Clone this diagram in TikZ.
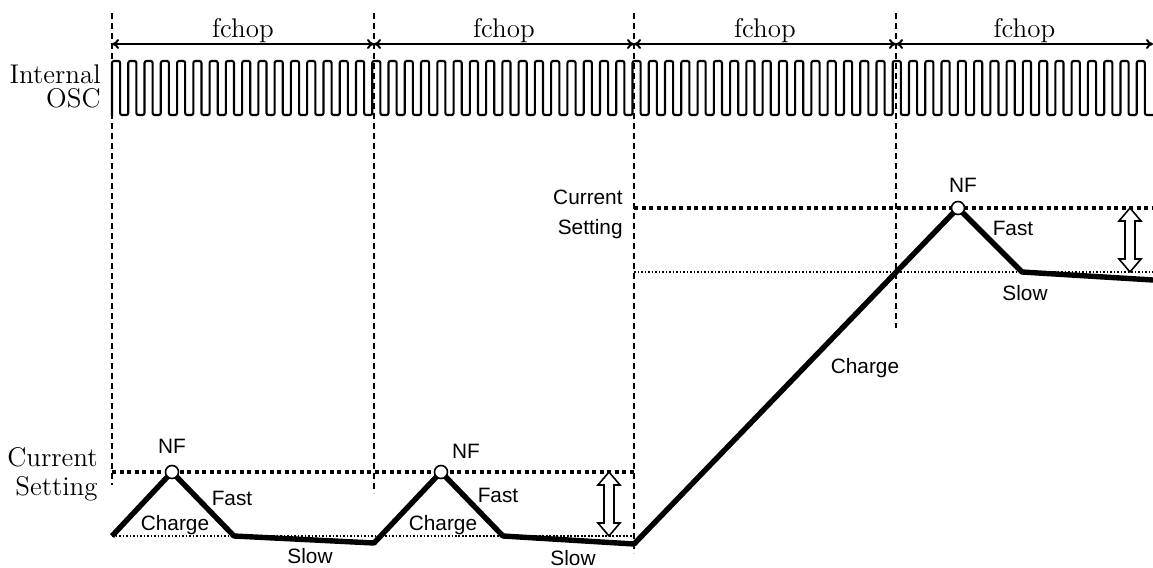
\documentclass[tikz,border=0pt]{standalone}
\usepackage{fontspec}
\newfontfamily\sansfam{Liberation Sans}
\usetikzlibrary{arrows.meta}
\begin{document}
\begin{tikzpicture}[x=0.5pt,y=-0.5pt,
  seriflabel/.style={font=\fontsize{13.5}{15}\selectfont, inner sep=0pt},
  sanslabel/.style={font=\sansfam\fontsize{10.4}{12}\selectfont, inner sep=0pt},
  gridline/.style={line width=0.6pt, dash pattern=on 3pt off 2pt},
  spanarrow/.style={line width=1pt, {To[length=3.5pt,width=5pt]}-{To[length=3.5pt,width=5pt]}},
  osc/.style={line width=1.05pt, rounded corners=1pt},
  levelline/.style={line width=2pt, dash pattern=on 2pt off 1.75pt},
  baseline/.style={line width=0.85pt, dash pattern=on 0.85pt off 0.9pt},
  wave/.style={line width=2.7pt, line join=round},
  nfdot/.style={circle, draw, fill=white, line width=0.8pt, minimum size=6.5pt, inner sep=0pt},
  dblarrow/.style={draw, fill=white, line width=0.8pt, line join=miter}
]
\useasboundingbox (0,0) rectangle (1153,568);

% vertical dashed guides
\coordinate (v1t) at (112,13);  \coordinate (v1b) at (112,485);
\coordinate (v2t) at (374,13);  \coordinate (v2b) at (374,493);
\coordinate (v3t) at (634,13);  \coordinate (v3b) at (634,553);
\coordinate (v4t) at (896,13);  \coordinate (v4b) at (896,328);
\draw[gridline] (v1t) -- (v1b);
\draw[gridline] (v2t) -- (v2b);
\draw[gridline] (v3t) -- (v3b);
\draw[gridline] (v4t) -- (v4b);

% fchop spans
\coordinate (a1) at (112,44);
\coordinate (a2) at (374,44);
\coordinate (a3) at (634,44);
\coordinate (a4) at (896,44);
\coordinate (a5) at (1153,44);
\draw[spanarrow] (a1) -- (a2);
\draw[spanarrow] (a2) -- (a3);
\draw[spanarrow] (a3) -- (a4);
\draw[spanarrow] (a4) -- (a5);
\node[seriflabel, anchor=base] (f1) at (243,37) {fchop};
\node[seriflabel, anchor=base] (f2) at (504,37) {fchop};
\node[seriflabel, anchor=base] (f3) at (765,37) {fchop};
\node[seriflabel, anchor=base] (f4) at (1024.5,37) {fchop};

% internal oscillator
\node[seriflabel, anchor=base east] (osc1) at (101,83) {Internal};
\node[seriflabel, anchor=base east] (osc2) at (101,107) {OSC};
\draw[osc] (112,115) foreach \i in {1,...,64} { -- ++(0,-54) -- ++(8.1328,0) -- ++(0,54) -- ++(8.1328,0) };

% current setting levels
\coordinate (l1a) at (112,472); \coordinate (l1b) at (634,472);
\coordinate (b1a) at (112,536); \coordinate (b1b) at (634,536);
\coordinate (l2a) at (634,208); \coordinate (l2b) at (1153,208);
\coordinate (b2a) at (634,272); \coordinate (b2b) at (1153,272);
\draw[levelline] (l1a) -- (l1b);
\draw[levelline] (l2a) -- (l2b);
\draw[baseline] (b1a) -- (b1b);
\draw[baseline] (b2a) -- (b2b);

% current waveform
\coordinate (w0) at (112,536);
\coordinate (p1) at (172,472);
\coordinate (w1) at (234,536);
\coordinate (w2) at (374,543);
\coordinate (p2) at (441,472);
\coordinate (w3) at (503,536);
\coordinate (w4) at (634,544);
\coordinate (p3) at (958,208);
\coordinate (w5) at (1022,272);
\coordinate (w6) at (1153,280);
\draw[wave] (w0) -- (p1) -- (w1) -- (w2) -- (p2) -- (w3) -- (w4) -- (p3) -- (w5) -- (w6);
\node[nfdot] (nf1) at (p1) {};
\node[nfdot] (nf2) at (p2) {};
\node[nfdot] (nf3) at (p3) {};

% double arrows
\draw[dblarrow] (609,472) -- (620,485) -- (614,485) -- (614,523) -- (620,523) -- (609,536)
  -- (598,523) -- (604,523) -- (604,485) -- (598,485) -- cycle;
\draw[dblarrow] (1130,208) -- (1141,221) -- (1135,221) -- (1135,259) -- (1141,259) -- (1130,272)
  -- (1119,259) -- (1125,259) -- (1125,221) -- (1119,221) -- cycle;

% left labels
\node[seriflabel, anchor=base east] (cs1) at (98,466) {Current};
\node[seriflabel, anchor=base east] (cs2) at (98,495) {Setting};
\node[sanslabel, anchor=base east] (cs3) at (623,204) {Current};
\node[sanslabel, anchor=base east] (cs4) at (623,234) {Setting};

% waveform labels
\node[sanslabel, anchor=base] (nfl1) at (172,453) {NF};
\node[sanslabel, anchor=base] (nfl2) at (466,458) {NF};
\node[sanslabel, anchor=base] (nfl3) at (963,192) {NF};
\node[sanslabel, anchor=base] (fa1) at (232,505) {Fast};
\node[sanslabel, anchor=base] (fa2) at (498,502) {Fast};
\node[sanslabel, anchor=base] (fa3) at (1013,235) {Fast};
\node[sanslabel, anchor=base] (ch1) at (175,530) {Charge};
\node[sanslabel, anchor=base] (ch2) at (443,530) {Charge};
\node[sanslabel, anchor=base] (ch3) at (865,373) {Charge};
\node[sanslabel, anchor=base] (sl1) at (310,563) {Slow};
\node[sanslabel, anchor=base] (sl2) at (573,565) {Slow};
\node[sanslabel, anchor=base] (sl3) at (1025,300) {Slow};
\end{tikzpicture}
\end{document}
